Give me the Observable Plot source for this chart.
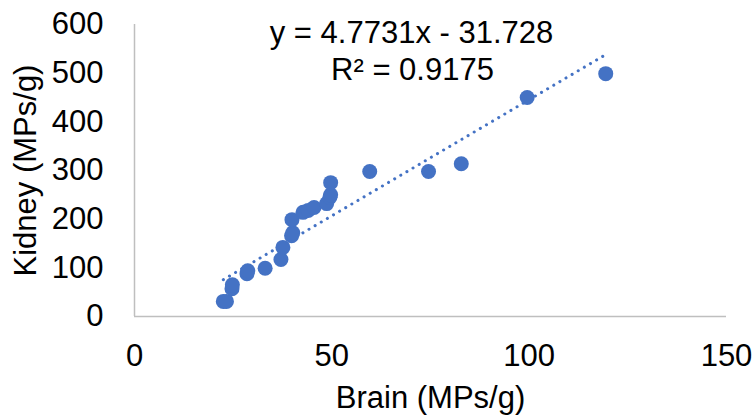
<!DOCTYPE html>
<html>
<head>
<meta charset="utf-8">
<script src="https://cdn.jsdelivr.net/npm/d3@7"></script>
<script src="https://cdn.jsdelivr.net/npm/@observablehq/plot@0.6"></script>
<style>
  html, body { margin: 0; padding: 0; background: #fff; }
  svg { display: block; }
</style>
</head>
<body>
<div id="chart"></div>
<script>
const brain  = [22.5, 23.3, 24.7, 24.8, 28.5, 28.7, 33.1, 37.1, 37.6, 39.8, 40.1, 39.9, 42.7, 44.0, 45.5, 48.7, 49.5, 49.7, 49.7, 59.6, 74.5, 82.8, 99.5, 119.4];
const kidney = [31, 31, 57, 65, 88, 94, 99, 117, 142, 166, 172, 199, 214, 218, 224, 232, 245, 250, 275, 298, 298, 314, 450, 499];
const slope = 4.7731, intercept = -31.728;
const equationLines = ["y = 4.7731x - 31.728", "R² = 0.9175"];
const xTicks = [0, 50, 100, 150];
const yTicks = [0, 100, 200, 300, 400, 500, 600];
const xLabel = "Brain (MPs/g)";
const yLabel = "Kidney (MPs/g)";

const points = brain.map((b, i) => ({brain: b, kidney: kidney[i]}));
const xMin = d3.min(brain), xMax = d3.max(brain);
const trend = [xMin, xMax].map(x => ({brain: x, kidney: slope * x + intercept}));

const blue = "#4472C4";
const font = "Liberation Sans, Arial, sans-serif";
const fs = 31;

const chart = Plot.plot({
  width: 756,
  height: 417,
  marginLeft: 134,
  marginRight: 30,
  marginTop: 24,
  marginBottom: 101,
  style: {fontFamily: font, fontSize: fs + "px", color: "#000", background: "#fff"},
  x: {domain: [0, 150], ticks: xTicks},
  y: {domain: [0, 600], ticks: yTicks},
  marks: [
    Plot.ruleY([0], {stroke: "#BFBFBF", strokeWidth: 1.5}),
    Plot.ruleX([0], {stroke: "#BFBFBF", strokeWidth: 1.5}),
    Plot.axisX({ticks: xTicks, tickSize: 0, tickPadding: 27, fontSize: fs, label: null, fill: "#000"}),
    Plot.axisY({ticks: yTicks, tickSize: 0, tickPadding: 31, fontSize: fs, label: null, fill: "#000"}),
    Plot.line(trend, {x: "brain", y: "kidney", stroke: blue, strokeWidth: 3, strokeDasharray: "0.1 7", strokeLinecap: "round"}),
    Plot.dot(points, {x: "brain", y: "kidney", r: 7.5, fill: blue, stroke: "none"}),
    Plot.text([xLabel], {frameAnchor: "bottom", lineAnchor: "bottom", textAnchor: "middle", dy: 91, fontSize: fs, fill: "#000"}),
    Plot.text([yLabel], {frameAnchor: "left", lineAnchor: "middle", textAnchor: "middle", dx: -108, rotate: -90, fontSize: fs, fill: "#000"}),
    Plot.text([equationLines[0]], {frameAnchor: "top-left", lineAnchor: "bottom", textAnchor: "middle", dx: 277, dy: 18, fontSize: fs, fill: "#000"}),
    Plot.text([equationLines[1]], {frameAnchor: "top-left", lineAnchor: "bottom", textAnchor: "middle", dx: 278, dy: 55, fontSize: fs, fill: "#000"})
  ]
});
document.getElementById("chart").appendChild(chart);
</script>
</body>
</html>
